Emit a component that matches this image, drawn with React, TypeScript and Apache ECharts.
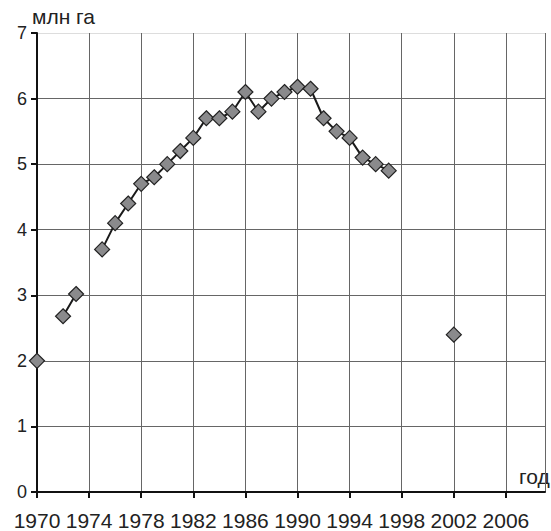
import React, { useEffect, useRef } from "react";
import * as echarts from "echarts";

const years = [
  1970, 1971, 1972, 1973, 1974, 1975, 1976, 1977, 1978, 1979, 1980, 1981, 1982,
  1983, 1984, 1985, 1986, 1987, 1988, 1989, 1990, 1991, 1992, 1993, 1994, 1995,
  1996, 1997, 1998, 1999, 2000, 2001, 2002,
];
const area: (number | null)[] = [
  2.0, null, 2.68, 3.02, null, 3.7, 4.1, 4.4, 4.7, 4.8, 5.0, 5.2, 5.4,
  5.7, 5.7, 5.8, 6.1, 5.8, 6.0, 6.1, 6.18, 6.15, 5.7, 5.5, 5.4, 5.1,
  5.0, 4.9, null, null, null, null, 2.4,
];
const yTicks = [0, 1, 2, 3, 4, 5, 6, 7];

export default function App() {
  const ref = useRef<HTMLDivElement>(null);
  useEffect(() => {
    if (!ref.current) return;
    const chart = echarts.init(ref.current, null, { renderer: "svg" });
    const font = "'Liberation Sans', Arial, sans-serif";
    chart.setOption({
      animation: false,
      backgroundColor: "#fff",
      grid: { left: 37, right: 6, top: 33, bottom: 39, containLabel: false },
      xAxis: {
        type: "value",
        min: 1970,
        max: 2009,
        interval: 4,
        axisLine: { show: true, onZero: false, lineStyle: { color: "#111", width: 2 } },
        axisTick: { show: true, length: 6, inside: false, lineStyle: { color: "#111", width: 2 } },
        axisLabel: {
          margin: 18,
          fontSize: 21,
          color: "#222",
          fontFamily: font,
          showMaxLabel: false,
          formatter: (v: number) => String(v),
        },
        splitLine: { show: true, lineStyle: { color: "#666", width: 1 } },
      },
      yAxis: {
        type: "value",
        min: yTicks[0],
        max: yTicks[yTicks.length - 1],
        interval: 1,
        axisLine: { show: true, lineStyle: { color: "#111", width: 2 } },
        axisTick: { show: true, length: 6, lineStyle: { color: "#111", width: 2 } },
        axisLabel: { margin: 10, fontSize: 18, color: "#222", fontFamily: font },
        splitLine: {
          show: true,
          lineStyle: {
            color: ["#666", "#666", "#666", "#666", "#666", "#666", "#666", "#ddd"],
            width: 1,
          },
        },
      },
      series: [
        {
          type: "line",
          data: years.map((y, i) => [y, area[i]]),
          connectNulls: false,
          clip: false,
          symbol: "diamond",
          symbolSize: 15,
          showAllSymbol: true,
          lineStyle: { color: "#1a1a1a", width: 2 },
          itemStyle: { color: "#8a8a8c", borderColor: "#222", borderWidth: 1.2 },
          z: 3,
        },
      ],
      graphic: [
        {
          type: "text",
          left: 32,
          top: 6,
          style: { text: "млн га", fontSize: 21, fill: "#222", fontFamily: font },
        },
        {
          type: "text",
          left: 519,
          top: 466,
          style: { text: "год", fontSize: 21, fill: "#222", fontFamily: font },
        },
      ],
    });
    return () => chart.dispose();
  }, []);
  return <div ref={ref} style={{ width: 551, height: 531, position: "absolute", left: 0, top: 0 }} />;
}
